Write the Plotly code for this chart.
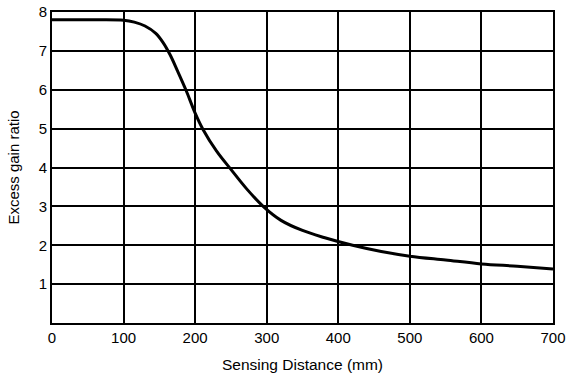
import plotly.graph_objects as go

distance_mm = [0, 50, 100, 115, 130, 145, 155, 165, 175, 187, 200, 211, 230, 250, 272, 295, 320, 350, 380, 420, 460, 500, 550, 600, 650, 700]
gain_ratio = [7.8, 7.8, 7.79, 7.74, 7.64, 7.45, 7.22, 6.9, 6.5, 6.0, 5.4, 4.98, 4.42, 3.95, 3.45, 3.0, 2.64, 2.38, 2.2, 2.0, 1.84, 1.72, 1.62, 1.52, 1.46, 1.39]

x_ticks = [0, 100, 200, 300, 400, 500, 600, 700]
y_ticks = [1, 2, 3, 4, 5, 6, 7, 8]

font = "Liberation Sans, Arial, sans-serif"

fig = go.Figure()
fig.add_trace(go.Scatter(
    x=distance_mm, y=gain_ratio, mode="lines",
    line=dict(color="black", width=3, shape="spline", smoothing=1.0),
    showlegend=False, hoverinfo="skip",
))

fig.update_layout(
    width=570, height=381,
    margin=dict(l=52, r=17, t=12, b=58, autoexpand=False),
    paper_bgcolor="white", plot_bgcolor="white",
    font=dict(family=font, color="black", size=15),
)
fig.update_xaxes(
    range=[0, 700], tickvals=x_ticks, ticktext=[str(v) for v in x_ticks],
    showgrid=True, gridcolor="black", gridwidth=1.6,
    showline=True, linecolor="black", linewidth=1.6, mirror=True,
    ticks="", zeroline=False, tickfont=dict(size=15),
    title=dict(text="Sensing Distance (mm)", font=dict(size=15.5), standoff=14),
    automargin=False,
)
fig.update_yaxes(
    range=[0, 8], tickvals=y_ticks, ticktext=[str(v) for v in y_ticks],
    showgrid=True, gridcolor="black", gridwidth=1.6,
    showline=True, linecolor="black", linewidth=1.6, mirror=True,
    ticks="", zeroline=False, tickfont=dict(size=15), ticklabelstandoff=0,
    title=dict(text="Excess gain ratio", font=dict(size=15), standoff=16),
    automargin=False,
)

fig.write_html("out.html", config={"displayModeBar": False},
               post_script="document.body.style.margin='0';")
